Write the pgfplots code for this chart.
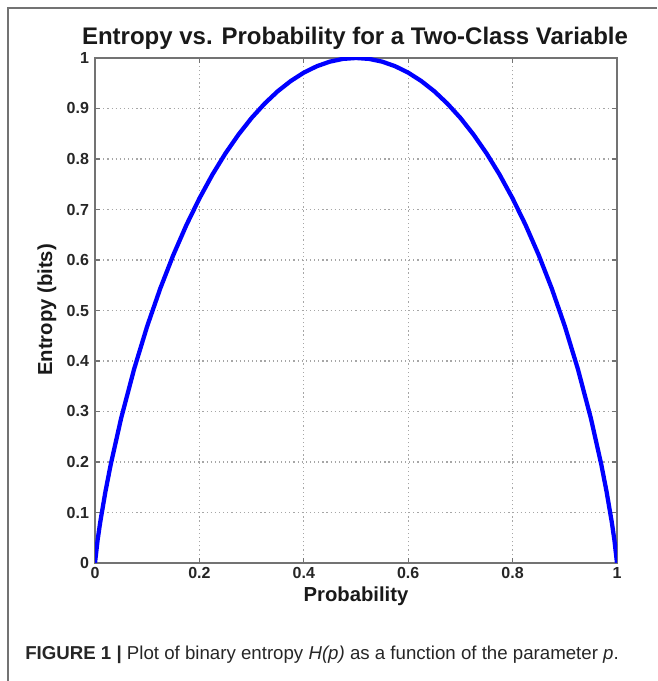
\documentclass[border=0pt]{standalone}
\usepackage{fontspec}
\setmainfont{Liberation Sans}
\usepackage{pgfplots}
\pgfplotsset{compat=1.18}
\begin{document}
\begin{tikzpicture}[x=0.75pt,y=0.75pt]
\useasboundingbox (0,0) rectangle (657,681);
\draw[color=black!55, line width=0.9pt] (657,673) -- (8,673) -- (8,0);
\begin{axis}[
  at={(71.25pt,88.5pt)}, anchor=south west,
  scale only axis, width=391.5pt, height=378.75pt,
  xmin=0, xmax=1, ymin=0, ymax=1,
  xtick={0,0.2,0.4,0.6,0.8,1},
  ytick={0,0.1,0.2,0.3,0.4,0.5,0.6,0.7,0.8,0.9,1},
  xticklabels={0,0.2,0.4,0.6,0.8,1},
  yticklabels={0,0.1,0.2,0.3,0.4,0.5,0.6,0.7,0.8,0.9,1},
  /pgf/number format/assume math mode=true,
  tick label style={font=\bfseries\fontsize{12}{13}\selectfont, text=black!85},
  yticklabel style={xshift=-1pt},
  xticklabel style={yshift=0pt},
  grid=major,
  major grid style={black!35, line width=0.9pt, dash pattern=on 0.9pt off 2.2pt},
  axis line style={black!55, line width=0.9pt},
  tick style={black!55, line width=0.8pt},
  major tick length=4pt,
  tick align=inside,
]
\addplot[color=blue, line width=3.2pt, line join=round] coordinates {
(0,0) (0.005,0.0454) (0.01,0.0808) (0.02,0.1414) (0.03,0.1944) (0.05,0.2864)
(0.075,0.3843) (0.1,0.4690) (0.125,0.5436) (0.15,0.6098) (0.175,0.6690)
(0.2,0.7219) (0.225,0.7692) (0.25,0.8113) (0.275,0.8485) (0.3,0.8813)
(0.325,0.9097) (0.35,0.9341) (0.375,0.9544) (0.4,0.9710) (0.425,0.9837)
(0.45,0.9928) (0.475,0.9982) (0.5,1)
(0.525,0.9982) (0.55,0.9928) (0.575,0.9837) (0.6,0.9710) (0.625,0.9544)
(0.65,0.9341) (0.675,0.9097) (0.7,0.8813) (0.725,0.8485) (0.75,0.8113)
(0.775,0.7692) (0.8,0.7219) (0.825,0.6690) (0.85,0.6098) (0.875,0.5436)
(0.9,0.4690) (0.925,0.3843) (0.95,0.2864) (0.97,0.1944) (0.98,0.1414)
(0.99,0.0808) (0.995,0.0454) (1,0)
};
\end{axis}
\node[font=\bfseries\fontsize{18}{20}\selectfont, text=black!90] at (355,643) {Entropy vs. Probability for a Two-Class Variable};
\node[font=\bfseries\fontsize{15.2}{17}\selectfont, rotate=90, text=black!90] at (47,371) {Entropy (bits)};
\node[font=\bfseries\fontsize{15.2}{17}\selectfont, text=black!90] at (356,85) {Probability};
\node[anchor=west, font=\fontsize{14}{16}\selectfont, text=black!85, inner sep=0pt] at (25,26) {\textbf{FIGURE 1 |} Plot of binary entropy \textit{H(p)} as a function of the parameter \textit{p}.};
\end{tikzpicture}
\end{document}
